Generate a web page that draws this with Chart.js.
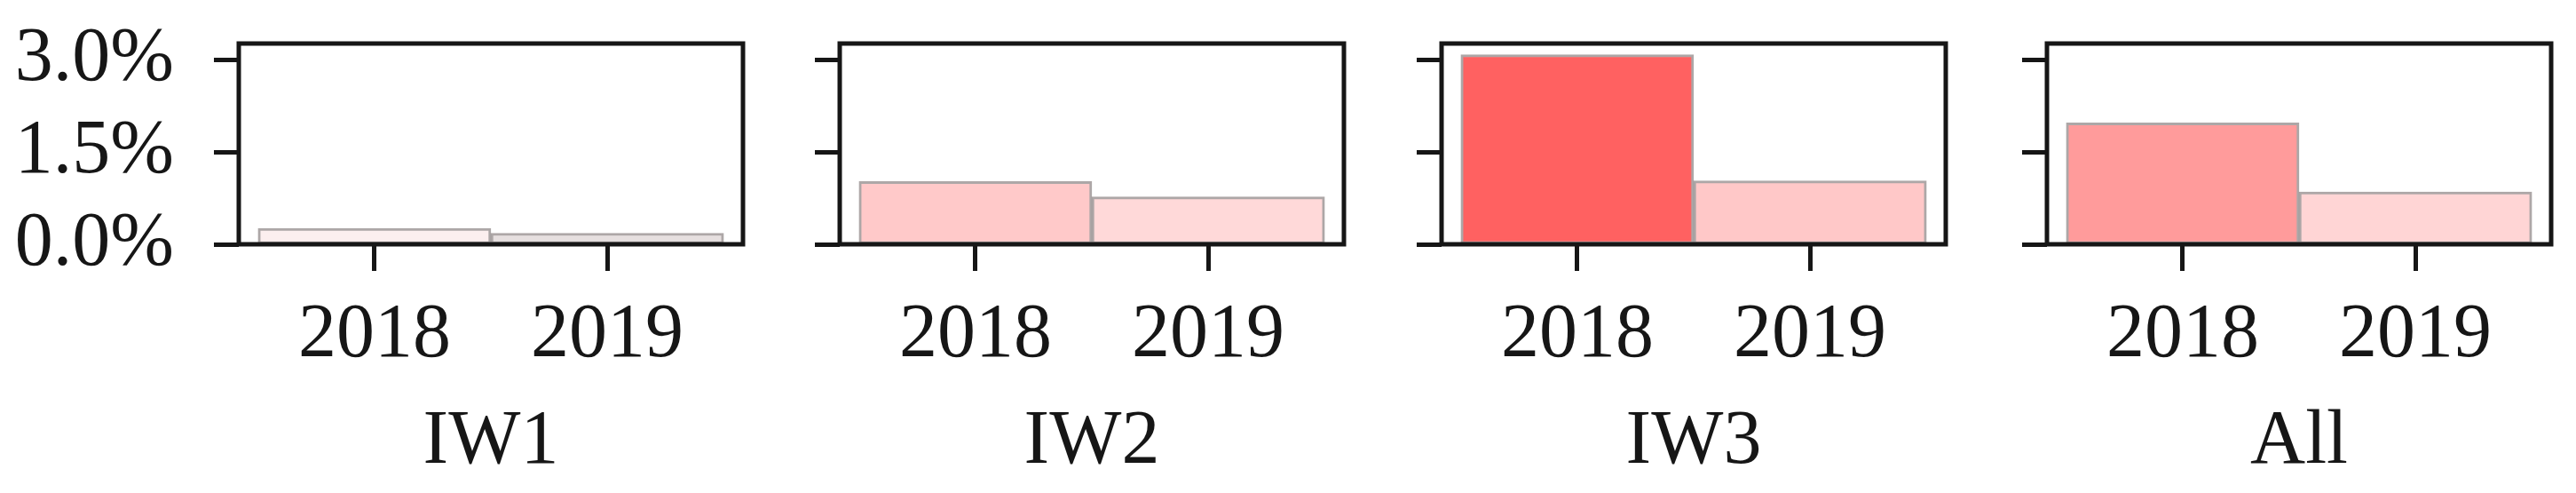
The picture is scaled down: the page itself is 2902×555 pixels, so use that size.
<!DOCTYPE html>
<html>
<head>
<meta charset="utf-8">
<script src="https://cdn.jsdelivr.net/npm/chart.js@4.4.0/dist/chart.umd.min.js"></script>
<style>
  html, body { margin: 0; padding: 0; background: #fff; }
  #wrap { position: relative; width: 2902px; height: 555px; overflow: hidden; }
  .panel { position: absolute; top: 0; height: 555px; }
</style>
</head>
<body>
<div id="wrap"></div>
<script>
// data (percent)
const years = ['2018', '2019'];
const groups = ['IW1', 'IW2', 'IW3', 'All'];
const rateIW1 = [0.26, 0.18];
const rateIW2 = [1.02, 0.77];
const rateIW3 = [3.08, 1.03];
const rateAll = [1.97, 0.85];
const yTicks = [0, 1.5, 3.0];

// bar fills (red shade grows with the value)
const fillIW1 = ['#fcefef', '#e6dfdf'];
const fillIW2 = ['#ffc9c9', '#ffd9d9'];
const fillIW3 = ['#ff6161', '#ffc8c8'];
const fillAll = ['#ff9b9b', '#ffd5d5'];

const series = [rateIW1, rateIW2, rateIW3, rateAll];
const fills = [fillIW1, fillIW2, fillIW3, fillAll];

// layout
const boxLeft = [269, 946, 1624, 2306];
const boxWidth = 566;
const boxTop = 49;
const xAxisHeight = 280;
const fontFamily = '"Liberation Serif", "DejaVu Serif", serif';
const fontSize = 86;
const ink = '#161616';

// draws the closed frame round the plot area
const frame = {
  id: 'frame',
  afterDatasetsDraw(chart) {
    const a = chart.chartArea;
    const ctx = chart.ctx;
    ctx.save();
    ctx.strokeStyle = ink;
    ctx.lineWidth = 5;
    ctx.strokeRect(a.left, a.top, a.right - a.left, a.bottom - a.top);
    ctx.restore();
  }
};

// keep the tick labels from pushing the plot area around
function noPad(axis) {
  axis.paddingTop = 0;
  axis.paddingBottom = 0;
  axis.paddingLeft = 0;
  axis.paddingRight = 0;
}

function makePanel(i) {
  const axisW = i === 0 ? 269 : 60;
  const div = document.createElement('div');
  div.className = 'panel';
  div.style.left = (boxLeft[i] - axisW) + 'px';
  div.style.width = (axisW + boxWidth + 8) + 'px';
  const canvas = document.createElement('canvas');
  div.appendChild(canvas);
  document.getElementById('wrap').appendChild(div);

  new Chart(canvas, {
    type: 'bar',
    data: {
      datasets: [{
        data: series[i].map((v, k) => ({ x: k, y: v })),
        backgroundColor: fills[i],
        borderColor: 'rgba(60, 45, 45, 0.42)',
        borderWidth: 3,
        borderSkipped: false,
        barPercentage: 1,
        categoryPercentage: 1
      }]
    },
    options: {
      responsive: true,
      maintainAspectRatio: false,
      animation: false,
      layout: { padding: { top: boxTop, right: 6, left: 0, bottom: 0 } },
      plugins: { legend: { display: false }, tooltip: { enabled: false } },
      scales: {
        x: {
          type: 'linear',
          offset: false,
          min: -0.583,
          max: 1.583,
          afterBuildTicks: axis => { axis.ticks = years.map((y, k) => ({ value: k })); },
          afterFit: axis => { axis.height = xAxisHeight; noPad(axis); },
          border: { display: false },
          grid: { offset: false, drawOnChartArea: false, drawTicks: true, tickLength: 30, tickWidth: 5, tickColor: ink },
          ticks: {
            padding: 22,
            autoSkip: false,
            color: ink,
            maxRotation: 0,
            font: { family: fontFamily, size: fontSize },
            callback: v => years[v]
          },
          title: {
            display: true,
            text: groups[i],
            color: ink,
            font: { family: fontFamily, size: fontSize, lineHeight: 1 },
            padding: { top: 0, bottom: 14 }
          }
        },
        y: {
          min: 0,
          max: 3.26,
          afterBuildTicks: axis => { axis.ticks = yTicks.map(v => ({ value: v })); },
          afterFit: axis => { axis.width = axisW; noPad(axis); },
          border: { display: false },
          grid: { drawOnChartArea: false, drawTicks: true, tickLength: 28, tickWidth: 5, tickColor: ink },
          ticks: {
            padding: 45,
            autoSkip: false,
            color: ink,
            font: { family: fontFamily, size: fontSize },
            callback: v => (i === 0 ? v.toFixed(1) + '%' : '')
          }
        }
      }
    },
    plugins: [frame]
  });
}

groups.forEach((g, i) => makePanel(i));
</script>
</body>
</html>
